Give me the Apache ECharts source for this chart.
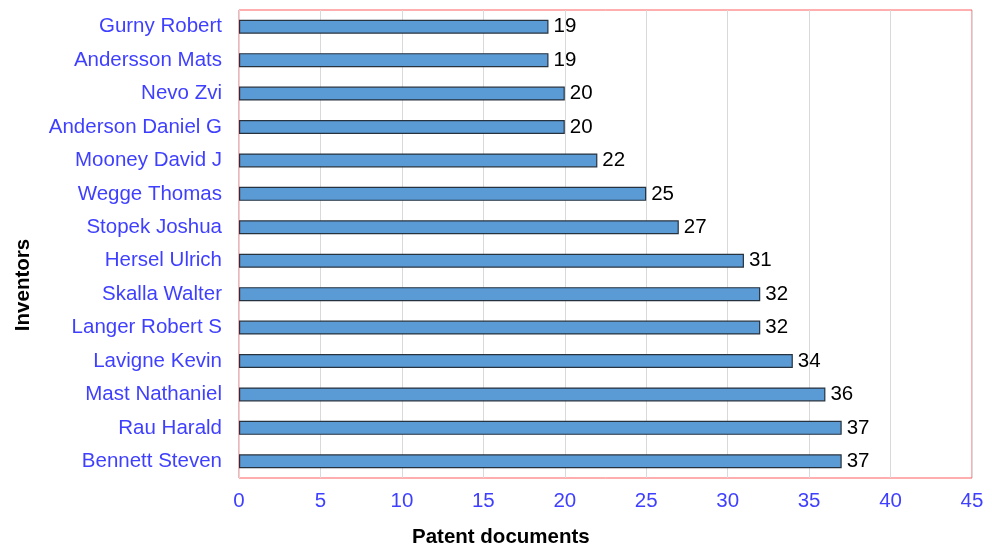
<!DOCTYPE html>
<html>
<head>
<meta charset="utf-8">
<script src="https://cdn.jsdelivr.net/npm/echarts@6/dist/echarts.min.js"></script>
<style>
  html, body { margin: 0; padding: 0; background: #fff; }
  #chart { width: 992px; height: 549px; }
</style>
</head>
<body>
<div id="chart"></div>
<script>
// Inventors, listed top to bottom
const inventors = [
  'Gurny Robert', 'Andersson Mats', 'Nevo Zvi', 'Anderson Daniel G',
  'Mooney David J', 'Wegge Thomas', 'Stopek Joshua', 'Hersel Ulrich',
  'Skalla Walter', 'Langer Robert S', 'Lavigne Kevin', 'Mast Nathaniel',
  'Rau Harald', 'Bennett Steven'
];
// Patent document count per inventor
const patentCounts = [19, 19, 20, 20, 22, 25, 27, 31, 32, 32, 34, 36, 37, 37];
// Value axis range
const axisMin = 0;
const axisMax = 45;
const axisStep = 5;

const FONT = '"Liberation Sans", Arial, sans-serif';
const BLUE = '#3f3fff';

const chart = echarts.init(document.getElementById('chart'), null, { renderer: 'canvas' });
chart.setOption({
  animation: false,
  backgroundColor: '#ffffff',
  grid: {
    left: 239, right: 20, top: 10, bottom: 71,
    show: true, borderColor: '#ff5f5f', borderWidth: 1,
    containLabel: false
  },
  xAxis: {
    type: 'value',
    min: axisMin, max: axisMax, interval: axisStep,
    axisLine: { show: false },
    axisTick: { show: false },
    axisLabel: { color: BLUE, fontFamily: FONT, fontSize: 20.5, margin: 13 },
    splitLine: { show: true, lineStyle: { color: '#d9d9d9', width: 1 } }
  },
  yAxis: {
    type: 'category',
    data: inventors,
    inverse: true,
    axisLine: { show: false },
    axisTick: { show: false },
    axisLabel: { color: BLUE, fontFamily: FONT, fontSize: 20.5, margin: 17 },
    splitLine: { show: false }
  },
  graphic: [
    {
      type: 'text', left: 412, top: 527,
      style: { text: 'Patent documents', font: 'bold 20.5px ' + FONT, fill: '#000' }
    },
    {
      type: 'text', x: 23, y: 285, rotation: Math.PI / 2,
      style: {
        text: 'Inventors', font: 'bold 20.5px ' + FONT, fill: '#000',
        align: 'center', verticalAlign: 'middle'
      }
    }
  ],
  series: [{
    type: 'bar',
    data: patentCounts,
    barWidth: 14,
    itemStyle: { color: '#5b9bd5', borderColor: '#26323e', borderWidth: 1.2 },
    label: {
      show: true, position: 'right', distance: 5,
      color: '#000', fontFamily: FONT, fontSize: 20.5
    }
  }]
});
</script>
</body>
</html>
